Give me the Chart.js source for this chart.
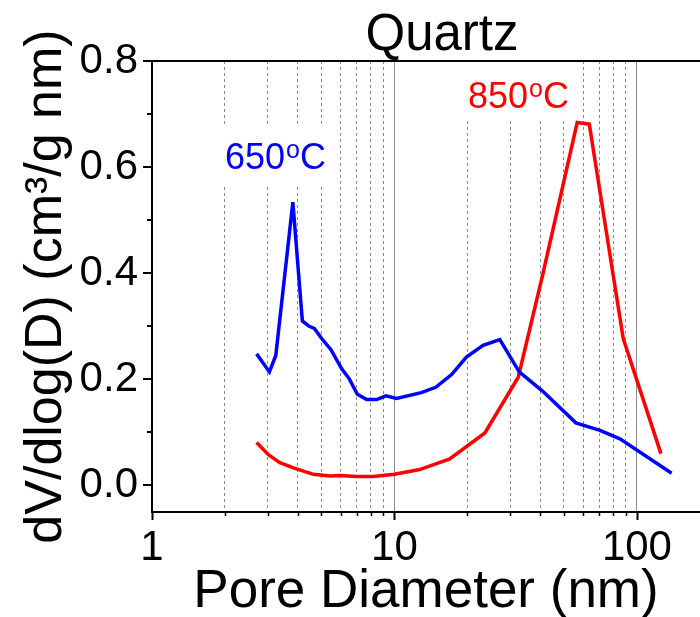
<!DOCTYPE html>
<html>
<head>
<meta charset="utf-8">
<title>Quartz</title>
<script src="https://cdn.jsdelivr.net/npm/chart.js@4.4.1/dist/chart.umd.min.js"></script>
<style>
  html, body { margin: 0; padding: 0; background: #fff; overflow: hidden; }
</style>
</head>
<body>
<canvas id="chart" width="700" height="617"></canvas>
<script>
// pore diameters (nm) and dV/dlog(D)
const d650 = [2.70, 3.05, 3.24, 3.81, 4.17, 4.45, 4.67, 5.01, 5.47, 6.06, 6.51, 7.03, 7.68, 8.44, 9.23, 10.2, 12.9, 14.8, 17.2, 19.8, 23.2, 27.2, 32.7, 40.8, 56.0, 70.4, 85.1, 139];
const v650 = [0.248, 0.214, 0.245, 0.534, 0.310, 0.300, 0.296, 0.277, 0.256, 0.220, 0.201, 0.172, 0.162, 0.162, 0.169, 0.164, 0.175, 0.185, 0.209, 0.242, 0.264, 0.275, 0.214, 0.178, 0.118, 0.104, 0.088, 0.023];

const d850 = [2.70, 3.02, 3.37, 3.83, 4.63, 5.42, 5.96, 6.98, 8.18, 10.0, 12.7, 16.9, 23.6, 32.4, 41.0, 56.7, 63.6, 87.8, 125.6];
const v850 = [0.081, 0.058, 0.043, 0.033, 0.021, 0.018, 0.019, 0.017, 0.017, 0.021, 0.030, 0.050, 0.099, 0.204, 0.400, 0.684, 0.681, 0.277, 0.060];

// axis ticks
const xTicks = [1, 2, 3, 4, 5, 6, 7, 8, 9, 10, 20, 30, 40, 50, 60, 70, 80, 90, 100];
const xLabels = [1, 10, 100];
const yTicks = [0, 0.1, 0.2, 0.3, 0.4, 0.5, 0.6, 0.7, 0.8];

const FONT = '"Liberation Sans", Arial, Helvetica, sans-serif';

const pts = (xs, ys) => xs.map((x, i) => ({ x, y: ys[i] }));

function degText(ctx, x, y, num, color) {
  ctx.fillStyle = color;
  ctx.textAlign = 'left';
  ctx.textBaseline = 'alphabetic';
  ctx.font = '36px ' + FONT;
  ctx.fillText(num, x, y);
  const w = ctx.measureText(num).width;
  ctx.font = '25px ' + FONT;
  ctx.fillText('o', x + w + 1, y - 11);
  const w2 = ctx.measureText('o').width;
  ctx.font = '36px ' + FONT;
  ctx.fillText('C', x + w + w2 + 1, y);
}

const decor = {
  id: 'decor',
  beforeDatasetsDraw(chart) {
    const { ctx, chartArea: a } = chart;
    // white boxes behind the labels (break the grid lines)
    ctx.save();
    ctx.fillStyle = '#fff';
    ctx.fillRect(220, 127, 112, 58);
    ctx.fillRect(460, a.top, 116, 60);
    ctx.restore();
  },
  afterDraw(chart) {
    const { ctx, chartArea: a } = chart;
    const xs = chart.scales.x, ys = chart.scales.y;
    ctx.save();
    ctx.strokeStyle = '#000';
    ctx.lineWidth = 2;
    // top frame line
    ctx.beginPath();
    ctx.moveTo(a.left, a.top);
    ctx.lineTo(a.right, a.top);
    ctx.stroke();
    // y ticks (outward)
    yTicks.forEach((v, i) => {
      const py = Math.round(ys.getPixelForValue(v));
      const len = i % 2 === 0 ? 9 : 5;
      ctx.beginPath();
      ctx.moveTo(a.left - len, py);
      ctx.lineTo(a.left, py);
      ctx.stroke();
    });
    // x ticks (outward)
    xTicks.forEach(v => {
      const px = Math.round(xs.getPixelForValue(v)) + 0.5;
      const len = xLabels.includes(v) ? 8 : 4;
      ctx.lineWidth = xLabels.includes(v) ? 2 : 1.5;
      ctx.beginPath();
      ctx.moveTo(px, a.bottom);
      ctx.lineTo(px, a.bottom + len);
      ctx.stroke();
    });
    // title
    ctx.fillStyle = '#000';
    ctx.font = '51px ' + FONT;
    ctx.textAlign = 'center';
    ctx.textBaseline = 'alphabetic';
    ctx.fillText('Quartz', 442, 50);
    // series labels
    degText(ctx, 225, 169, '650', '#0000ff');
    degText(ctx, 468, 108, '850', '#ff0000');
    ctx.restore();
  }
};

new Chart(document.getElementById('chart'), {
  type: 'line',
  data: {
    datasets: [
      { label: '650oC', data: pts(d650, v650), borderColor: '#0000ff', borderWidth: 3.5, pointRadius: 0, tension: 0, fill: false },
      { label: '850oC', data: pts(d850, v850), borderColor: '#ff0000', borderWidth: 3.5, pointRadius: 0, tension: 0, fill: false }
    ]
  },
  options: {
    responsive: false,
    animation: false,
    events: [],
    layout: { padding: { top: 61, right: 0, left: 0, bottom: 0 } },
    plugins: { legend: { display: false }, tooltip: { enabled: false }, title: { display: false } },
    scales: {
      x: {
        type: 'logarithmic',
        min: 1,
        max: 182,
        bounds: 'data',
        afterBuildTicks: s => { s.ticks = xTicks.map(v => ({ value: v })); },
        afterFit: s => { s.height = 105; },
        ticks: {
          autoSkip: false,
          maxRotation: 0,
          padding: 11,
          color: '#000',
          font: { family: FONT, size: 42 },
          callback: v => xLabels.includes(v) ? String(v) : ''
        },
        grid: {
          drawTicks: false,
          lineWidth: 1,
          color: c => c.tick && c.tick.value === 1 ? 'rgba(0,0,0,0)' : '#8c8c8c'
        },
        border: {
          display: true,
          color: '#000',
          width: 2,
          dash: c => (c.tick && xLabels.includes(c.tick.value)) ? [] : [3, 3]
        },
        title: {
          display: true,
          text: 'Pore Diameter (nm)',
          color: '#000',
          font: { family: FONT, size: 53, lineHeight: 0.92 },
          padding: 0
        }
      },
      y: {
        min: -0.05,
        max: 0.8,
        afterBuildTicks: s => { s.ticks = yTicks.map(v => ({ value: v })); },
        afterFit: s => { s.width = 152; },
        ticks: {
          padding: 14,
          color: '#000',
          font: { family: FONT, size: 42 },
          callback: v => Math.round(v * 10) % 2 === 0 ? v.toFixed(1) : ''
        },
        grid: { display: false, drawTicks: false },
        border: { display: true, color: '#000', width: 2 },
        title: {
          display: true,
          text: 'dV/dlog(D) (cm\u00B3/g nm)',
          color: '#000',
          font: { family: FONT, size: 52, lineHeight: 1.2 },
          padding: { top: 15, bottom: 0 }
        }
      }
    }
  },
  plugins: [decor]
});
</script>
</body>
</html>
